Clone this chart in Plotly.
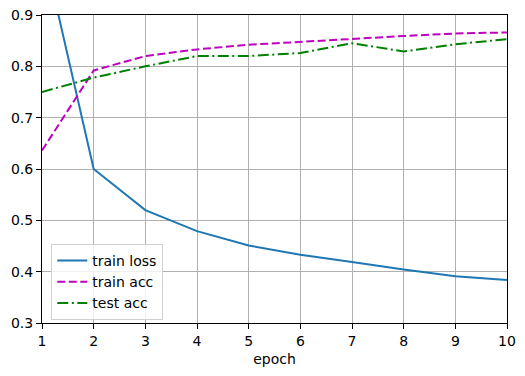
import plotly.graph_objects as go

epochs = [1, 2, 3, 4, 5, 6, 7, 8, 9, 10]
train_loss = [1.04, 0.600, 0.520, 0.479, 0.451, 0.433, 0.419, 0.404, 0.391, 0.384]
train_acc = [0.636, 0.792, 0.820, 0.833, 0.842, 0.848, 0.853, 0.859, 0.864, 0.866]
test_acc = [0.750, 0.778, 0.800, 0.820, 0.820, 0.826, 0.845, 0.829, 0.843, 0.853]
y_ticks = [0.3, 0.4, 0.5, 0.6, 0.7, 0.8, 0.9]

fig = go.Figure()
fig.add_trace(go.Scatter(x=epochs, y=train_loss, mode="lines", name="train loss",
                         line=dict(color="#1f77b4", width=2)))
fig.add_trace(go.Scatter(x=epochs, y=train_acc, mode="lines", name="train acc",
                         line=dict(color="#bf00bf", width=2, dash="8px,3.5px")))
fig.add_trace(go.Scatter(x=epochs, y=test_acc, mode="lines", name="test acc",
                         line=dict(color="#008000", width=2, dash="11px,3.5px,2px,3.5px")))

axis_common = dict(showgrid=True, gridcolor="#b0b0b0", gridwidth=1,
                   showline=True, linecolor="black", linewidth=1, mirror=True,
                   ticks="outside", ticklen=5, tickcolor="black", tickwidth=1,
                   zeroline=False, tickfont=dict(size=14, color="black"))

fig.update_xaxes(range=[1, 10], tickvals=epochs, ticktext=[str(e) for e in epochs],
                 title=dict(text="epoch", font=dict(size=14, color="black"), standoff=6),
                 **axis_common)
fig.update_yaxes(range=[0.3, 0.9], tickvals=y_ticks, ticktext=[f"{v:.1f}" for v in y_ticks],
                 **axis_common)

fig.update_layout(
    width=525, height=376,
    margin=dict(l=42, r=18, t=15, b=53, autoexpand=False),
    plot_bgcolor="white", paper_bgcolor="white",
    font=dict(family="DejaVu Sans", size=14, color="black"),
    legend=dict(x=0.02, y=0.01, xanchor="left", yanchor="bottom",
                bgcolor="rgba(255,255,255,0.8)", bordercolor="#d0d0d0", borderwidth=1,
                font=dict(size=14), tracegroupgap=0, itemwidth=30),
    showlegend=True,
)

fig.write_html("out.html", config={"displayModeBar": False},
               post_script="document.body.style.margin='0';document.body.style.padding='0';")
